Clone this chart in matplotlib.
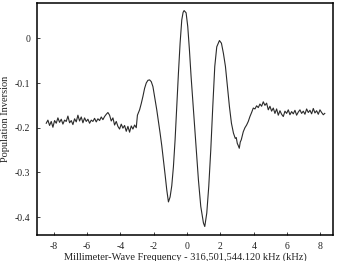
import matplotlib
matplotlib.use("Agg")
import matplotlib.pyplot as plt

# frequency offset (kHz) and population inversion
freq = [
    -8.45, -8.35, -8.25, -8.15, -8.05, -7.95, -7.85, -7.75, -7.65, -7.55,
    -7.45, -7.35, -7.25, -7.15, -7.05, -6.95, -6.85, -6.75, -6.65, -6.55,
    -6.45, -6.35, -6.25, -6.15, -6.05, -5.95, -5.85, -5.75, -5.65, -5.55,
    -5.45, -5.35, -5.25, -5.15, -5.05, -4.95, -4.85, -4.75, -4.65, -4.55,
    -4.45, -4.35, -4.25, -4.15, -4.05, -3.95, -3.85, -3.75, -3.65, -3.55,
    -3.45, -3.35, -3.25, -3.15, -3.05, -2.98, -2.85, -2.75, -2.65, -2.55,
    -2.45, -2.35, -2.25, -2.15, -2.05, -1.95, -1.82, -1.72, -1.62, -1.52,
    -1.42, -1.32, -1.22, -1.12, -1.02, -0.92, -0.82, -0.72, -0.62, -0.52,
    -0.42, -0.32, -0.24, -0.18, -0.06, 0.04, 0.14, 0.24, 0.38, 0.54,
    0.68, 0.82, 0.98, 1.06, 1.18, 1.30, 1.42, 1.54, 1.66, 1.78,
    1.94, 2.06, 2.18, 2.30, 2.42, 2.54, 2.66, 2.78, 2.89, 2.95,
    3.01, 3.07, 3.13, 3.19, 3.25, 3.37, 3.47, 3.57, 3.67, 3.77,
    3.87, 3.97, 4.07, 4.17, 4.27, 4.37, 4.47, 4.57, 4.67, 4.77,
    4.87, 4.97, 5.07, 5.17, 5.27, 5.37, 5.47, 5.57, 5.67, 5.77,
    5.87, 5.97, 6.07, 6.17, 6.27, 6.37, 6.47, 6.57, 6.67, 6.77,
    6.87, 6.97, 7.07, 7.17, 7.27, 7.37, 7.47, 7.57, 7.67, 7.77,
    7.87, 7.97, 8.07, 8.17, 8.26,
]
inversion = [
    -0.190, -0.183, -0.195, -0.186, -0.199, -0.184, -0.190, -0.178, -0.188, -0.181,
    -0.192, -0.183, -0.186, -0.174, -0.189, -0.184, -0.193, -0.180, -0.187, -0.172,
    -0.185, -0.176, -0.189, -0.178, -0.186, -0.181, -0.190, -0.183, -0.186, -0.179,
    -0.187, -0.180, -0.184, -0.176, -0.182, -0.175, -0.170, -0.166, -0.172, -0.185,
    -0.178, -0.194, -0.186, -0.197, -0.203, -0.192, -0.201, -0.195, -0.208, -0.197,
    -0.210, -0.196, -0.203, -0.194, -0.200, -0.172, -0.160, -0.146, -0.130, -0.112,
    -0.100, -0.094, -0.093, -0.097, -0.108, -0.130, -0.160, -0.186, -0.212, -0.240,
    -0.272, -0.305, -0.339, -0.366, -0.355, -0.330, -0.287, -0.227, -0.153, -0.078,
    -0.011, 0.041, 0.058, 0.062, 0.057, 0.026, -0.026, -0.086, -0.160, -0.242,
    -0.317, -0.376, -0.413, -0.421, -0.391, -0.331, -0.250, -0.153, -0.063, -0.019,
    -0.005, -0.011, -0.034, -0.063, -0.108, -0.153, -0.190, -0.212, -0.224, -0.222,
    -0.235, -0.240, -0.246, -0.232, -0.227, -0.209, -0.200, -0.194, -0.186, -0.175,
    -0.166, -0.156, -0.158, -0.151, -0.155, -0.147, -0.152, -0.142, -0.150, -0.145,
    -0.160, -0.152, -0.163, -0.156, -0.168, -0.158, -0.172, -0.162, -0.170, -0.175,
    -0.163, -0.168, -0.160, -0.171, -0.164, -0.169, -0.161, -0.172, -0.165, -0.160,
    -0.168, -0.163, -0.170, -0.158, -0.166, -0.161, -0.169, -0.157, -0.167, -0.162,
    -0.170, -0.160, -0.166, -0.171, -0.168,
]
xticks = [-8, -6, -4, -2, 0, 2, 4, 6, 8]
yticks = [0, -0.1, -0.2, -0.3, -0.4]

plt.rcParams["font.family"] = ["Liberation Serif", "DejaVu Serif"]

fig = plt.figure(figsize=(3.37, 2.61), dpi=100)
ax = fig.add_axes([0.110, 0.0996, 0.878, 0.889])
ax.plot(freq, inversion, color="#2a2a2a", linewidth=0.8)

ax.set_xlim(-9.0, 8.75)
ax.set_ylim(-0.44, 0.079)
ax.set_xticks(xticks)
ax.set_xticklabels([str(t) for t in xticks])
ax.set_yticks(yticks)
ax.set_yticklabels(["0", "-0.1", "-0.2", "-0.3", "-0.4"])
ax.tick_params(direction="in", length=2.5, width=0.6, labelsize=7, pad=5,
               top=False, right=False, colors="#222222")
for s in ax.spines.values():
    s.set_linewidth(1.1)

ax.set_xlabel("Millimeter-Wave Frequency - 316,501,544.120 kHz (kHz)",
              fontsize=7.5, labelpad=1, color="#222222")
ax.set_ylabel("Population Inversion", fontsize=7.5, labelpad=3, color="#222222")

fig.savefig("out.png", dpi=100)
